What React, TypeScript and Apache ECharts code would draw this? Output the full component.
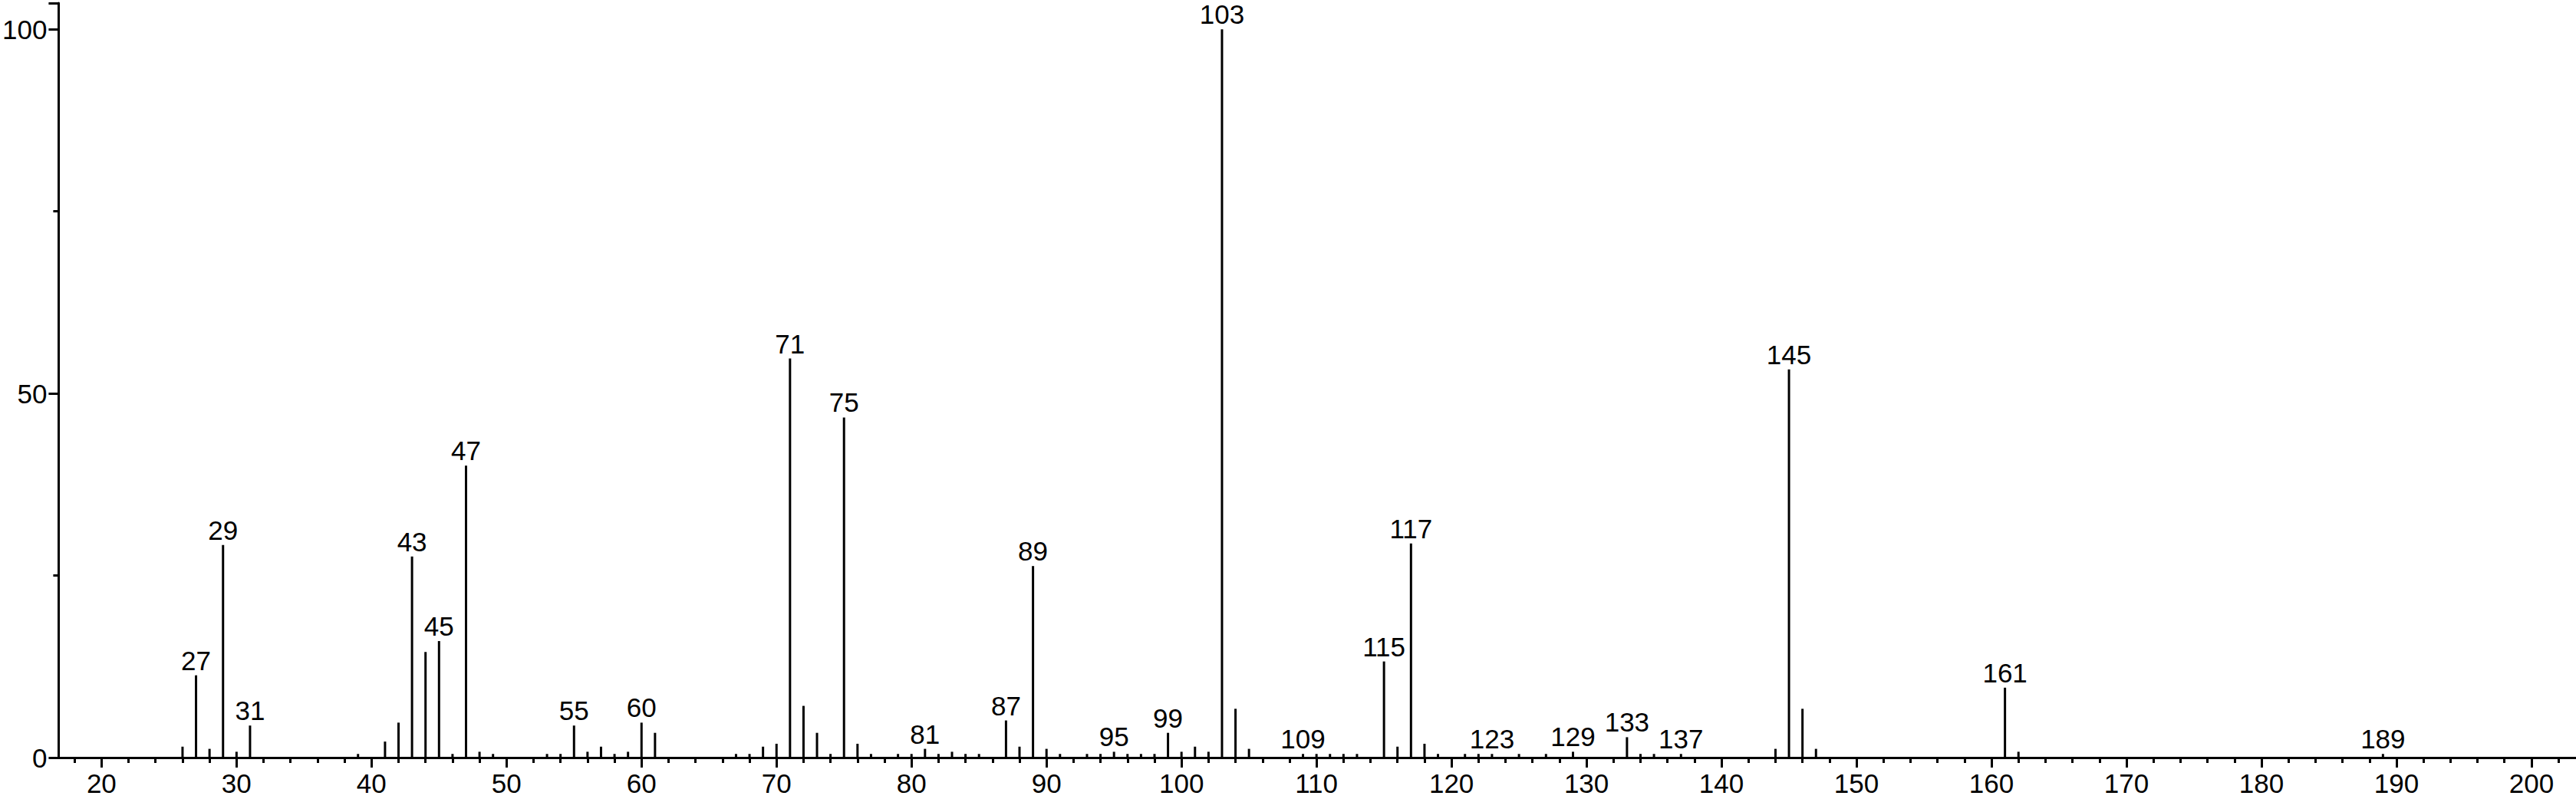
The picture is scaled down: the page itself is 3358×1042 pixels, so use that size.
import React, { useEffect, useRef } from "react";
import * as echarts from "echarts";

const mz = [26, 27, 28, 29, 30, 31, 39, 41, 42, 43, 44, 45, 46, 47, 48, 49, 53, 54, 55, 56, 57, 58, 59, 60, 61, 67, 68, 69, 70, 71, 72, 73, 74, 75, 76, 77, 79, 80, 81, 82, 83, 84, 85, 87, 88, 89, 90, 91, 93, 94, 95, 96, 97, 98, 99, 100, 101, 102, 103, 104, 105, 109, 110, 111, 112, 113, 115, 116, 117, 118, 119, 121, 122, 123, 125, 127, 129, 133, 134, 135, 137, 144, 145, 146, 147, 161, 162, 189];
const intensity = [1.5, 11.3, 1.2, 29.2, 0.8, 4.4, 0.5, 2.2, 4.8, 27.6, 14.5, 16.0, 0.5, 40.1, 0.8, 0.5, 0.5, 0.5, 4.4, 0.8, 1.5, 0.5, 0.8, 4.8, 3.4, 0.5, 0.5, 1.5, 1.9, 54.8, 7.1, 3.4, 0.5, 46.7, 1.9, 0.5, 0.5, 0.5, 1.2, 0.5, 0.8, 0.5, 0.5, 5.1, 1.5, 26.3, 1.2, 0.5, 0.5, 0.5, 0.8, 0.5, 0.5, 0.5, 3.4, 0.8, 1.5, 0.8, 100, 6.7, 1.2, 0.5, 0.5, 0.5, 0.5, 0.5, 13.2, 1.5, 29.4, 1.9, 0.5, 0.5, 0.5, 0.5, 0.5, 0.5, 0.8, 2.8, 0.5, 0.5, 0.5, 1.2, 53.3, 6.7, 1.2, 9.6, 0.8, 0.5];
const labeledPeaks = [27, 29, 31, 43, 45, 47, 55, 60, 71, 75, 81, 87, 89, 95, 99, 103, 109, 115, 117, 123, 129, 133, 137, 145, 161, 189];
const xMajorTicks = [20, 30, 40, 50, 60, 70, 80, 90, 100, 110, 120, 130, 140, 150, 160, 170, 180, 190, 200];
const xMinorTicks = [18, 22, 24, 26, 28, 32, 34, 36, 38, 42, 44, 46, 48, 52, 54, 56, 58, 62, 64, 66, 68, 72, 74, 76, 78, 82, 84, 86, 88, 92, 94, 96, 98, 102, 104, 106, 108, 112, 114, 116, 118, 122, 124, 126, 128, 132, 134, 136, 138, 142, 144, 146, 148, 152, 154, 156, 158, 162, 164, 166, 168, 172, 174, 176, 178, 182, 184, 186, 188, 192, 194, 196, 198, 202];

const FONT = "'Liberation Sans', Arial, sans-serif";
const X_MIN = 16.82;
const X_MAX = 203.3;

export default function App() {
  const ref = useRef<HTMLDivElement>(null);
  useEffect(() => {
    document.body.style.margin = "0";
    const chart = echarts.init(ref.current!, null, { renderer: "svg" });
    const data = mz.map((m, i) => ({
      value: [m, intensity[i]],
      label: { show: labeledPeaks.includes(m) },
    }));
    chart.setOption({
      animation: false,
      backgroundColor: "#ffffff",
      grid: { left: 70, right: 0, top: 4, bottom: 54, containLabel: false },
      xAxis: [
        {
          type: "value",
          min: X_MIN,
          max: X_MAX,
          axisLine: { show: true, onZero: false, lineStyle: { color: "#000", width: 3 } },
          axisTick: { show: true, customValues: xMajorTicks, length: 13, inside: false, lineStyle: { color: "#000", width: 3 } },
          axisLabel: { show: true, customValues: xMajorTicks, color: "#000", fontSize: 35, fontFamily: FONT, margin: 16 },
          splitLine: { show: false },
        },
        {
          type: "value",
          min: X_MIN,
          max: X_MAX,
          position: "bottom",
          axisLine: { show: false },
          axisTick: { show: true, customValues: xMinorTicks, length: 7, inside: false, lineStyle: { color: "#000", width: 3 } },
          axisLabel: { show: false },
          splitLine: { show: false },
        },
      ],
      yAxis: {
        type: "value",
        min: 0,
        max: 103.6,
        interval: 50,
        axisLine: { show: true, lineStyle: { color: "#000", width: 3 } },
        axisTick: { show: true, length: 13, lineStyle: { color: "#000", width: 3 } },
        minorTick: { show: true, splitNumber: 2, length: 7, lineStyle: { color: "#000", width: 3 } },
        axisLabel: { color: "#000", fontSize: 35, fontFamily: FONT, margin: 15 },
        splitLine: { show: false },
        minorSplitLine: { show: false },
      },
      series: [
        {
          type: "bar",
          xAxisIndex: 0,
          barWidth: 3,
          itemStyle: { color: "#000" },
          label: {
            position: "top",
            distance: 2,
            color: "#000",
            fontSize: 35,
            fontFamily: FONT,
            formatter: (p: any) => String(p.value[0]),
          },
          data,
        },
      ],
    });
    return () => chart.dispose();
  }, []);
  return <div ref={ref} style={{ position: "absolute", left: 0, top: 0, width: 3358, height: 1042 }} />;
}
